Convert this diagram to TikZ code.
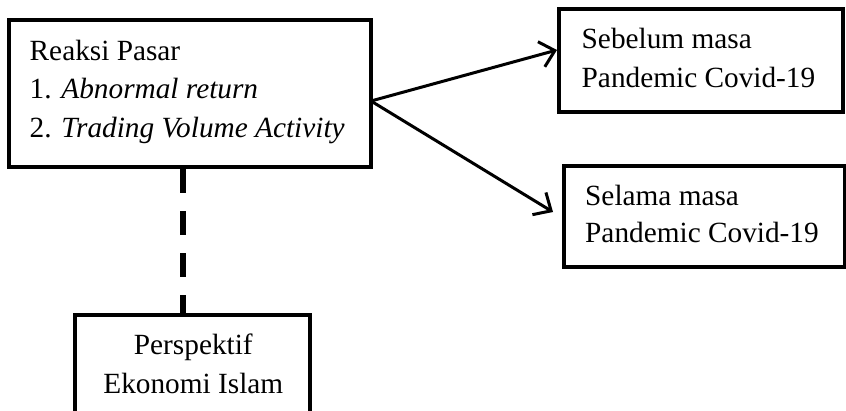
\documentclass[tikz,border=0pt]{standalone}
\usepackage{fontspec}
\setmainfont{Liberation Serif}
\usetikzlibrary{arrows.meta}
\begin{document}
\begin{tikzpicture}[x=1pt,y=-1pt,
  box/.style={draw=black, line width=4pt, inner sep=0pt, fill=none},
  txt/.style={inner sep=0pt, font=\fontsize{29.3}{38}\selectfont},
  arr/.style={line width=3pt, -{Straight Barb[length=14pt,width=26pt,line width=3pt]}},
  dashline/.style={line width=5.5pt, dash pattern=on 24pt off 18pt}]
\useasboundingbox (0,0) rectangle (846,410);
\clip (0,0) rectangle (846,410);
\fill[white] (0,0) rectangle (846,410);
% boxes
\node[box, minimum width=362pt, minimum height=146.7pt] (rp) at (189.7,93.65) {};
\node[box, minimum width=284pt, minimum height=103pt] (seb) at (701,60.5) {};
\node[box, minimum width=280.5pt, minimum height=101pt] (sel) at (704.25,216.5) {};
\node[box, minimum width=234.5pt, minimum height=115.3pt] (pe) at (192.25,372.35) {};
% texts
\node[txt, anchor=base west] (rp1) at (29.5,60) {Reaksi Pasar};
\node[txt, anchor=base west] (rp2) at (29.5,98) {1. \textit{Abnormal return}};
\node[txt, anchor=base west] (rp3) at (29.5,137) {2. \textit{Trading Volume Activity}};
\node[txt, anchor=base west] (seb1) at (581.5,48) {Sebelum masa};
\node[txt, anchor=base west] (seb2) at (581.5,87) {Pandemic Covid-19};
\node[txt, anchor=base west] (sel1) at (585,205) {Selama masa};
\node[txt, anchor=base west] (sel2) at (585,242) {Pandemic Covid-19};
\node[txt, anchor=base] (pe1) at (193.3,354) {Perspektif};
\node[txt, anchor=base] (pe2) at (193.3,393) {Ekonomi Islam};
% connectors
\coordinate (o) at (371,101);
\coordinate (t1) at (557,50);
\coordinate (t2) at (553,212);
\draw[arr] (o) -- (t1);
\draw[arr] (o) -- (t2);
\coordinate (d) at (183,0);
\draw[dashline] (rp.south -| d) -- (pe.north -| d);
\end{tikzpicture}
\end{document}
